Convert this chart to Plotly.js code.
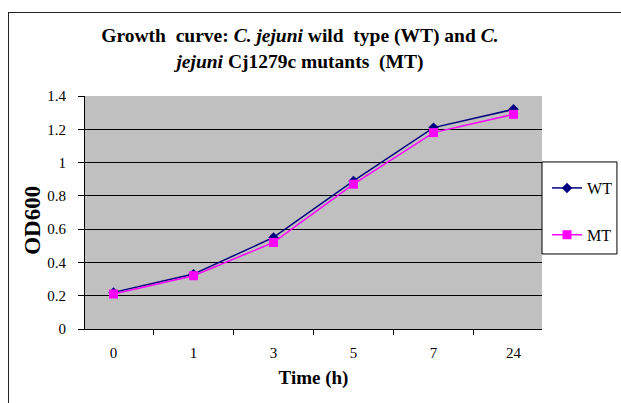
<!DOCTYPE html>
<html>
<head>
<meta charset="utf-8">
<script src="https://cdn.plot.ly/plotly-3.0.1.min.js"></script>
<style>html,body{margin:0;padding:0;background:#fff;overflow:hidden;}#chart{width:621px;height:403px;position:relative;}
#frame{position:absolute;left:8px;top:12px;width:700px;height:500px;border-left:1px solid #222;border-top:1px solid #222;pointer-events:none;}</style>
</head>
<body>
<div id="chart"></div>
<div id="frame"></div>
<script>
var timeLabels = ["0", "1", "3", "5", "7", "24"];
var wtValues = [0.22, 0.33, 0.55, 0.89, 1.21, 1.32];
var mtValues = [0.21, 0.32, 0.52, 0.87, 1.18, 1.29];

var serif = "Liberation Serif";

var traces = [
  {
    x: timeLabels, y: wtValues, name: "WT", type: "scatter", mode: "lines+markers",
    line: {color: "#000080", width: 1.5},
    marker: {symbol: "diamond", size: 8, color: "#000080"},
    legendgroup: "a"
  },
  {
    x: timeLabels, y: mtValues, name: "MT", type: "scatter", mode: "lines+markers",
    line: {color: "#ff00ff", width: 1.5},
    marker: {symbol: "square", size: 9, color: "#ff00ff"},
    legendgroup: "b"
  }
];

var layout = {
  width: 621, height: 403,
  margin: {l: 85, r: 79, t: 96, b: 74, autoexpand: false},
  paper_bgcolor: "#ffffff",
  plot_bgcolor: "#c0c0c0",
  font: {family: serif, color: "#000", size: 15},
  title: {
    text: "<b>Growth  curve: <i>C. jejuni</i> wild  type (WT) and <i>C.</i><br><i>jejuni</i> Cj1279c mutants  (MT)</b>",
    font: {family: serif, size: 19.5, color: "#000"},
    x: 0.483, xref: "container", xanchor: "center",
    y: 0.895, yref: "container", yanchor: "top"
  },
  xaxis: {
    type: "category",
    tickson: "boundaries",
    ticks: "outside", ticklen: 5, tickcolor: "#000",
    showline: true, linecolor: "#000", linewidth: 1,
    showgrid: false, zeroline: false,
    ticklabelstandoff: 10,
    tickfont: {family: serif, size: 15, color: "#000"},
    title: {text: "<b>Time (h)</b>", font: {family: serif, size: 19, color: "#000"}, standoff: 10}
  },
  yaxis: {
    range: [0, 1.4], dtick: 0.2, tick0: 0,
    ticks: "outside", ticklen: 6, tickcolor: "#000",
    showline: true, linecolor: "#000", linewidth: 1,
    showgrid: true, gridcolor: "#000", gridwidth: 1,
    zeroline: false,
    ticklabelstandoff: 9,
    tickfont: {family: serif, size: 15, color: "#000"}
  },
  annotations: [
    {text: "<b>OD600</b>", xref: "paper", yref: "paper", x: -0.114, y: 0.468,
     xanchor: "center", yanchor: "middle", textangle: -90, showarrow: false,
     font: {family: serif, size: 23, color: "#000"}}
  ],
  shapes: [
    {type: "rect", xref: "paper", yref: "paper", x0: 1.0, x1: 1.164, y0: 0.322, y1: 0.717,
     line: {color: "#000", width: 1}, fillcolor: "#ffffff", layer: "above"}
  ],
  legend: {
    x: 1.011, xanchor: "left", y: 0.678, yanchor: "top",
    borderwidth: 0, bgcolor: "rgba(0,0,0,0)",
    font: {family: serif, size: 16, color: "#000"},
    tracegroupgap: 23
  },
  showlegend: true
};

Plotly.newPlot("chart", traces, layout, {displayModeBar: false, staticPlot: true});
</script>
</body>
</html>
